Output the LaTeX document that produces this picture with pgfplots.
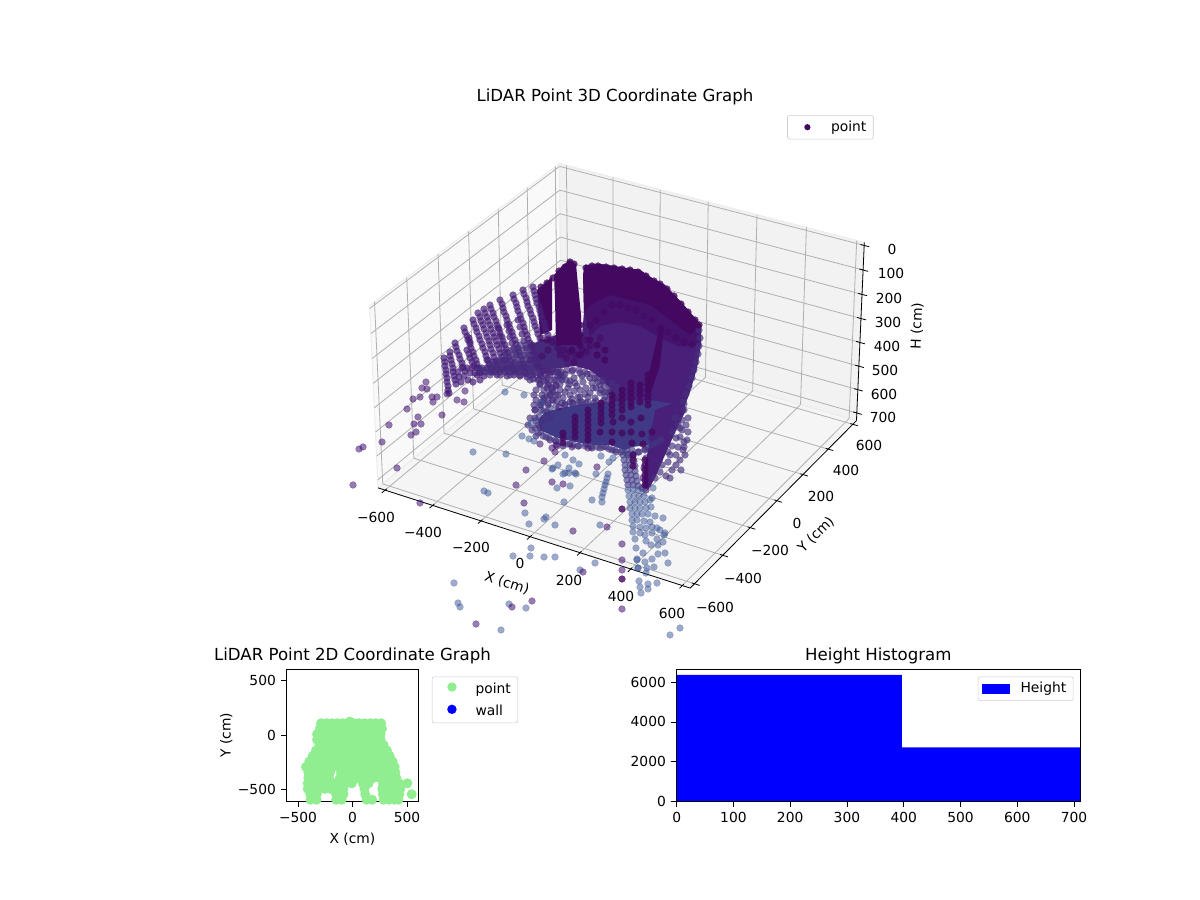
\documentclass[border=0pt]{standalone}
\usepackage{fontspec}
\setmainfont{DejaVu Sans}
\usepackage{pgfplots}
\pgfplotsset{compat=1.18}
% The 3D box is given in its own units (X, Y, H cm) and projected with the
% perspective of the original. The cloud cannot be read in 3D from a flat
% picture: its points are the positions (pixels).
\newcommand\PD[3]{(10-(0.0003927*(#1)-0.0006803*(#2)+0.0004485*(360.5-(#3))))}
\newcommand\PX[3]{(621.5+3115*(0.0007855*(#1)+0.0004535*(#2))/\PD{#1}{#2}{#3})}
\newcommand\PY[3]{(365-3115*(-0.0002268*(#1)+0.0003927*(#2)+0.0007768*(360.5-(#3)))/\PD{#1}{#2}{#3})}
\pgfplotsset{table/proj/.style={row sep=\\,x expr={\PX{\thisrow{X}}{\thisrow{Y}}{\thisrow{H}}},y expr={\PY{\thisrow{X}}{\thisrow{Y}}{\thisrow{H}}}}}
\newcommand\seg[7]{\addplot[#1,forget plot] table[proj]{X Y H\\#2 #3 #4\\#5 #6 #7\\};}
\definecolor{gridc}{HTML}{B0B0B0}
\definecolor{cdark}{HTML}{43085F}
\definecolor{cmid}{HTML}{48207A}
\definecolor{cblue}{HTML}{403A86}
\definecolor{cslate}{HTML}{3B5596}
\definecolor{cring}{HTML}{46307E}
\definecolor{cpur}{HTML}{3F1070}
\definecolor{lgreen}{HTML}{90EE90}
\pgfplotsset{
 dot/.style n args={2}{only marks,mark=*,mark size=2.45pt,mark options={draw=#1,fill=#1,opacity=#2,line width=.2pt},forget plot},
 poly/.style={fill=#1,draw=none,forget plot},
 gl/.style={draw=gridc,line width=.58pt},
 lgd/.style={draw=black!20,rounded corners=1.5pt,fill=white,fill opacity=.8,text opacity=1,font=\fontsize{10}{12}\selectfont,cells={anchor=west}},
 lgdot/.style 2 args={legend image code/.code={\path[draw=none,fill=none] (0,-.1cm) -- (.93cm,.1cm);\path[draw=none,fill=#1,fill opacity=1] (.40cm,0) circle (#2);}},
}
\begin{document}
\begin{tikzpicture}
\useasboundingbox (0,0) rectangle (864bp,648bp);
\begin{axis}[at={(0,648bp)},anchor=north west,hide axis,scale only axis,width=864bp,height=457.92bp,
 xmin=0,xmax=1200,ymin=0,ymax=636,y dir=reverse,clip=true]
% panes
\addplot[fill=black!2.5,draw=black!7,line width=.8pt,forget plot] table[proj]{X Y H\\-630 -630 733\\-630 630 733\\-630 630 -12\\-630 -630 -12\\-630 -630 733\\};
\addplot[fill=black!5,draw=black!7,line width=.8pt,forget plot] table[proj]{X Y H\\-630 630 733\\630 630 733\\630 630 -12\\-630 630 -12\\-630 630 733\\};
\addplot[fill=black!4,draw=black!7,line width=.8pt,forget plot] table[proj]{X Y H\\-630 -630 733\\630 -630 733\\630 630 733\\-630 630 733\\-630 -630 733\\};
% grid
\pgfplotsinvokeforeach{-600,-400,-200,0,200,400,600}{
 \seg{gl}{#1}{-630}{733}{#1}{630}{733}
 \seg{gl}{#1}{630}{733}{#1}{630}{-12}
 \seg{gl}{-630}{#1}{733}{630}{#1}{733}
 \seg{gl}{-630}{#1}{733}{-630}{#1}{-12}
 \seg{black,line width=.58pt}{#1}{-650}{733}{#1}{-620}{733}
 \seg{black,line width=.58pt}{620}{#1}{733}{650}{#1}{733}
}
\pgfplotsinvokeforeach{0,100,200,300,400,500,600,700}{
 \seg{gl}{-630}{630}{#1}{630}{630}{#1}
 \seg{gl}{-630}{-630}{#1}{-630}{630}{#1}
 \seg{black,line width=.58pt}{615}{630}{#1}{650}{630}{#1}
}
\seg{black,line width=.58pt}{-630}{-630}{733}{630}{-630}{733}
\seg{black,line width=.58pt}{630}{-630}{733}{630}{630}{733}
\seg{black,line width=.58pt}{630}{630}{733}{630}{630}{-12}
% fan streaks
\addplot[dot={cmid}{.7}] coordinates {
(455,343)(456,347)(457,351)(459,355)(460,359)(462,363)(463,367)(465,371)
(444,358)(445,362)(445,366)(446,370)(446,374)(447,378)(447,382)(448,386)(448,390)(449,393)
(450,352)(450,356)(451,360)(452,364)(453,368)(453,372)(454,376)(455,380)(456,384)
(458,372)(459,377)(461,382)(464,376)(468,380)(473,382)(480,380)(477,375)
(464,328)(465,332)(467,336)(468,340)(470,344)(471,348)(473,352)(474,356)(476,360)(477,364)(479,368)(480,372)
(473,320)(474,324)(476,328)(477,332)(479,336)(480,340)(482,344)(483,348)(485,352)(486,356)(488,360)(489,364)(491,368)(492,372)
(469,338)(470,342)(467,350)(469,354)(470,358)(472,362)(474,366)
(478,313)(480,317)(481,321)(483,325)(484,329)(486,333)(487,337)(489,341)(490,345)(491,349)(493,353)(494,357)(496,361)(497,365)(499,369)
(484,309)(485,313)(487,317)(488,321)(490,325)(491,329)(493,333)(494,337)(496,341)(497,345)(499,349)(500,353)(502,357)(503,361)(505,365)(506,369)
(490,305)(491,309)(493,313)(494,317)(496,321)(497,325)(499,329)(500,333)(502,337)(503,341)(505,345)(506,349)(508,353)(509,357)(511,361)(512,365)(514,369)
(500,300)(502,304)(503,308)(504,312)(506,316)(507,320)(509,324)(510,328)(512,332)(513,336)(515,340)(516,344)(518,348)(519,352)(521,356)(522,360)(524,364)(525,368)
(513,295)(514,299)(516,303)(517,307)(518,311)(520,315)(521,319)(523,323)(524,327)(525,331)(527,335)(528,339)(530,343)(531,347)(532,351)(534,355)(535,359)(537,363)
(523,290)(524,294)(526,298)(527,302)(528,306)(530,310)(531,314)(533,318)(534,322)(535,326)(537,330)(538,334)(540,338)(541,342)(543,346)(544,350)(545,354)(547,358)
(533,287)(534,291)(535,295)(536,299)(537,303)(539,307)(540,311)(541,315)(542,319)(544,323)(545,327)(546,331)(548,335)(549,339)
(507,325)(509,331)(510,337)(512,343)(514,349)(516,355)(498,328)(500,336)(502,344)(505,352)(507,360)
(518,320)(520,327)(522,334)(524,341)(526,348)(528,355)
(462,368)(467,368)(472,368)(477,368)(482,368)(487,368)(492,368)(497,368)(502,368)(507,368)(512,368)(517,368)(522,368)(527,368)(532,368)(537,368)
(470,373)(475,373)(480,373)(485,372)(490,372)(495,372)(500,372)(505,372)(510,372)(515,372)(520,372)(525,372)(530,372)(535,373)(540,373)(545,374)
(484,376)(497,375)(507,376)(514,375)(520,376)(527,377)(533,379)(539,379)(544,381)(549,384)(547,388)(552,388)(556,386)(540,384)
(487,360)(493,362)(499,362)(505,360)(515,362)(520,364)(530,360)(536,364)(542,362)(548,364)
(510,366)(516,370)(522,366)(528,364)(534,366)(540,368)(546,370)(552,372)(558,376)(548,378)(541,376)(533,375)(526,374)
};
\addplot[dot={cring}{.65}] coordinates {
(520,345)(526,345)(532,345)(538,345)(544,345)(550,345)
(512,350)(518,350)(524,350)(530,350)(536,350)(542,350)(548,350)(554,350)
(506,355)(512,355)(518,355)(524,355)(530,355)(536,355)(542,355)(548,355)(554,355)
(500,360)(506,360)(512,360)(518,360)(524,360)(530,360)(536,360)(542,360)(548,360)(554,360)(560,360)
(490,365)(496,365)(502,365)(508,365)(514,365)(520,365)(526,365)(532,365)(538,365)(544,365)(550,365)(556,365)(562,365)
(480,370)(486,370)(492,370)(498,370)(504,370)(510,370)(516,370)(522,370)(528,370)(534,370)(540,370)(546,370)(552,370)(558,370)
(490,375)(500,375)(510,375)(520,375)(530,375)(540,375)(550,375)(560,375)
(530,380)(538,380)(546,380)(554,380)(562,380)(540,385)(548,385)(556,385)
(536,390)(544,390)(552,390)(534,395)(542,395)(550,395)(558,395)(536,400)(544,400)(552,400)(534,405)(541,405)(548,405)(535,410)(541,410)
};
% mass
\addplot[poly=cmid] coordinates {(583,275)(585,265)(600,264)(620,267)(640,270)(652,278)(665,285)(682,303)(695,318)(701,325)(701,345)(697,368)(690,392)(684,408)(612,408)(610,388)(600,378)(590,370)(575,366)(560,368)(540,370)(530,345)(556,335)(582,335)(584,312)};
\addplot[fill=cdark,draw=none,fill opacity=.5,forget plot] coordinates {(584,312)(590,305)(610,295)(630,300)(650,305)(670,320)(690,335)(701,325)(701,345)(680,347)(660,338)(640,326)(620,322)(600,326)(590,336)};
\addplot[poly=cdark] coordinates {(583,275)(585,265)(600,264)(620,267)(640,270)(652,278)(665,285)(682,303)(695,318)(701,325)(690,335)(670,320)(650,305)(630,300)(610,295)(590,305)(584,312)};
\addplot[poly=cdark] coordinates {(537,290)(545,283)(552,277)(552,330)(540,335)};
\addplot[poly=cdark] coordinates {(554,275)(562,266)(570,260)(576,264)(577,275)(581,315)(582,345)(556,345)(555,300)};
\addplot[poly=cdark] coordinates {(660,325)(664,327)(660,365)(650,395)(645,392)(652,360)};
\addplot[poly=cblue] coordinates {(538,420)(545,412)(560,408)(577,405)(600,402)(650,400)(680,405)(660,445)(655,440)(648,445)(632,447)(625,450)(610,445)(595,445)(575,442)(555,437)(540,430)};
\addplot[poly=cmid] coordinates {(682,400)(686,410)(676,430)(665,455)(655,478)(648,490)(643,487)(645,465)(650,440)(655,410)};
% ragged edges of the mass
\addplot[dot={cmid}{.6}] coordinates {
(532,345)(534,352)(536,358)(531,360)(538,366)(543,371)(549,372)(555,372)(561,372)(567,370)(573,370)(579,370)(585,372)(591,374)(597,378)(603,381)(609,385)(611,392)(613,398)(612,404)
(684,404)(681,412)(678,420)(674,428)(670,436)(667,444)(663,452)(659,460)(655,468)(651,476)(648,484)(646,490)(642,488)(643,478)(644,468)(646,458)(648,448)(651,438)(654,428)
};
\addplot[dot={cdark}{.5}] coordinates {
(542,338)(547,340)(552,342)(558,348)(564,350)(570,352)(576,355)(582,350)(586,340)(590,325)(596,320)(604,312)(612,305)(620,305)(628,308)(636,310)(644,316)(652,320)(660,328)(668,332)(676,338)(684,342)(692,345)
(566,358)(574,362)(586,352)(590,346)(600,338)(560,355)(548,350)(542,356)
};
\addplot[dot={cblue}{.6}] coordinates {
(536,421)(539,416)(544,411)(550,408)(556,406)(535,428)(538,433)(543,436)(549,438)(555,440)(561,442)(567,444)(573,445)(579,446)(585,446)(591,447)(597,447)(603,447)(609,449)(615,450)(621,452)(627,454)(633,454)(639,452)(645,449)(651,445)(656,443)(661,440)(565,404)(572,403)(580,402)(588,402)(596,401)(604,400)
(622,450)(627,450)(632,450)(623,455)(628,455)(633,456)(624,460)(629,460)(634,461)(625,465)(630,465)(635,466)(625,470)(630,470)(635,471)(626,475)(631,475)(636,476)(627,480)(632,480)(637,481)(628,485)(633,485)(638,486)
};
% rings around the mass
\addplot[dot={cring}{.65}] coordinates {
(575,383)(583,382)(592,383)(600,385)(570,395)(578,397)(588,397)(595,398)(605,397)(563,398)(560,390)(548,403)(553,400)(542,402)(547,412)(565,405)(573,403)(582,402)(600,393)(610,390)(617,387)(543,420)(550,418)(540,427)(535,418)
(558,372)(565,374)(572,371)(580,373)(587,374)(595,378)(603,380)(612,383)(570,381)(555,380)
(560,378)(566,380)(574,378)(582,376)(590,378)(598,382)(604,386)(556,395)(562,403)(570,402)(578,403)(586,403)(594,403)(602,403)(608,400)(596,388)(604,392)(568,388)(560,384)(580,390)(586,388)(574,391)(590,393)(610,395)(616,392)(620,395)
(563,376)(569,384)(577,386)(585,394)(593,388)(601,390)(607,392)(565,392)(572,399)(580,397)(557,401)(553,392)(547,396)
(528,425)(532,430)(536,436)(530,418)(535,410)(540,405)(544,398)(550,394)
(678,425)(682,430)(680,437)(684,442)(678,447)(683,450)(676,455)(670,455)(680,460)(676,465)(672,470)(668,462)(662,465)(660,472)(666,476)(655,478)(660,440)(672,432)(675,418)(682,420)(685,455)(681,470)(670,478)
(684,410)(688,418)(686,425)(688,432)(687,440)(684,447)(680,428)(676,438)(672,446)(668,452)
(538,425)(541,432)(546,437)(550,440)(556,441)(563,446)(570,444)(578,446)(586,444)(592,448)(600,448)(606,447)(612,450)(616,452)(638,452)(645,450)
(699,330)(700,338)(699,346)(698,354)(696,362)(694,370)(692,378)(689,386)(686,394)(683,402)
};
% slate points
\addplot[dot={cslate}{.5}] coordinates {
(473,452)(506,454)(484,491)(488,493)(505,392)(524,395)(541,402)(531,423)(522,436)(529,439)(534,441)
(557,488)(570,486)(563,474)(569,473)(576,474)(553,468)(558,465)(564,502)(525,513)(529,524)(546,517)(544,519)(555,525)(600,525)(592,500)(602,502)(596,474)(531,548)
(607,478)(606,482)(605,485)(604,489)(603,493)(602,497)
(513,556)(530,556)(544,557)(555,557)(595,563)(580,570)(454,583)(458,603)(460,607)(509,604)(526,608)(501,630)(637,560)(638,568)
(628,490)(633,490)(638,490)(643,490)(629,496)(634,496)(639,496)(644,496)(630,502)(635,502)(640,502)(645,502)(650,500)(630,508)(635,508)(640,508)(646,508)(651,507)
(632,514)(637,514)(642,514)(648,514)(655,516)(632,520)(637,520)(644,521)(650,522)(657,528)(663,518)(633,526)(640,527)(646,528)(652,527)(660,530)(665,533)
(633,532)(640,533)(645,535)(652,533)(657,539)(664,535)(635,539)(636,548)(646,541)(651,545)(658,545)(663,542)
(643,553)(637,559)(645,562)(652,559)(658,554)(665,553)(668,563)(654,567)(638,568)(647,568)(646,573)(639,581)(648,584)(657,583)(640,587)(648,589)(641,593)
(680,628)(670,635)(565,473)(575,473)(552,469)(569,468)(579,464)(565,455)(573,460)(601,456)(608,474)(613,458)(609,462)(653,488)(652,498)
};
% purple points
\addplot[dot={cpur}{.55}] coordinates {
(353,485)(359,449)(363,447)(382,442)(389,425)(397,468)(407,409)(413,399)(420,397)(422,388)(426,382)(427,389)(432,397)(437,397)(433,402)
(418,417)(414,424)(421,424)(416,432)(411,435)(442,415)(457,400)(464,402)(447,394)(465,391)(420,503)
(526,470)(516,485)(544,461)(540,444)(552,482)(563,484)(597,467)(524,503)(573,531)(607,527)(552,448)(557,446)(555,452)(572,447)(588,448)(559,407)(556,445)
(583,572)(512,607)(532,601)(476,624)(600,638)(622,544)(622,560)(622,570)(622,609)
};
% dark points
\addplot[dot={cdark}{.8}] coordinates {
(622,509)(622,579)
(575,417)(575,422)(575,427)(575,432)(575,437)(588,410)(588,415)(588,420)(588,425)(588,430)(588,435)(588,440)
(601,403)(601,408)(601,413)(601,418)(601,423)(612,395)(612,400)(612,405)(612,410)(612,415)(622,390)(622,395)(622,400)(622,405)(622,410)
(631,383)(631,388)(631,393)(631,398)(631,403)(631,407)(640,385)(640,390)(640,395)(640,402)(648,375)(648,380)(648,385)(648,390)(648,395)(648,400)(648,405)
(563,433)(563,438)(563,443)(600,432)(612,432)(622,433)(631,432)(642,434)(652,432)(612,442)(632,443)(643,444)(622,418)(631,422)(641,418)(613,422)
(633,455)(633,460)(633,466)(645,460)(645,465)(645,470)(645,475)(645,480)(645,485)
(586,268)(592,266)(598,266)(606,267)(614,268)(622,269)(630,270)(638,272)(646,276)(654,281)(660,284)(667,289)(674,296)(681,304)(688,312)(695,320)(699,325)
(570,262)(565,267)(574,264)(559,271)(553,278)(547,283)(541,287)
(572,320)(572,330)(572,340)(572,350)(580,325)(580,335)(580,345)(580,355)(597,345)(597,355)(605,350)(605,360)(590,340)
};
% texts
\node[font=\fontsize{12}{14}\selectfont] at (axis cs:615,96.5) {LiDAR Point 3D Coordinate Graph};
\node at (axis cs:376,517) {−600};
\node at (axis cs:423,532) {−400};
\node at (axis cs:471,547) {−200};
\node at (axis cs:520,563) {0};
\node at (axis cs:569,580) {200};
\node at (axis cs:621,596) {400};
\node at (axis cs:672,613) {600};
\node[rotate=-18] at (axis cs:507,583) {X (cm)};
\node at (axis cs:715,607) {−600};
\node at (axis cs:743,578) {−400};
\node at (axis cs:770,550) {−200};
\node at (axis cs:797,523) {0};
\node at (axis cs:821,496) {200};
\node at (axis cs:846,470) {400};
\node at (axis cs:869,445) {600};
\node[rotate=45] at (axis cs:816,535) {Y (cm)};
\node at (axis cs:892,249) {0};
\node at (axis cs:891,273) {100};
\node at (axis cs:889,298) {200};
\node at (axis cs:888,322) {300};
\node at (axis cs:887,346) {400};
\node at (axis cs:885,370) {500};
\node at (axis cs:884,394) {600};
\node at (axis cs:883,417) {700};
\node[rotate=88] at (axis cs:917,326) {H (cm)};
\end{axis}
% legend of the 3D panel
\begin{axis}[at={(0,648bp)},anchor=north west,hide axis,scale only axis,width=864bp,height=457.92bp,
 xmin=0,xmax=1,ymin=0,ymax=1,legend style={lgd,at={(0.656,0.819)},anchor=north west}]
\addlegendimage{lgdot={cdark}{2.25pt}}
\addlegendentry{point}
\end{axis}
% 2D footprint
\begin{axis}[at={(206.4bp,71.1bp)},anchor=south west,scale only axis,width=94.8bp,height=95bp,
 xmin=-604,xmax=604,ymin=-604,ymax=604,xtick={-500,0,500},xticklabels={−500,0,500},ytick={-500,0,500},yticklabels={−500,0,500},
 tick align=outside,tick pos=left,xlabel={X (cm)},ylabel={Y (cm)},
 title={LiDAR Point 2D Coordinate Graph},title style={font=\fontsize{12}{14}\selectfont,yshift=-6pt},
 axis line style={line width=.6pt},major tick style={black,line width=.6pt},
 xlabel style={yshift=-.6pt},ylabel style={yshift=-3pt},
 legend style={lgd,at={(1.102,0.944)},anchor=north west,row sep=3pt}]
\addplot[only marks,mark=*,mark size=3.4pt,mark options={draw=lgreen,fill=lgreen},color=lgreen,forget plot] coordinates {
(-25,125)
(-288,110)(-238,110)(-188,110)(-138,110)(-88,110)(-38,110)(12,110)(62,110)(112,110)(162,110)(212,110)(262,110)
(-300,60)(-250,60)(-200,60)(-150,60)(-100,60)(-50,60)(0,60)(50,60)(100,60)(150,60)(200,60)(250,60)(270,60)
(-325,10)(-275,10)(-225,10)(-175,10)(-125,10)(-75,10)(-25,10)(25,10)(75,10)(125,10)(175,10)(225,10)(258,10)
(-325,-40)(-275,-40)(-225,-40)(-175,-40)(-125,-40)(-75,-40)(-25,-40)(25,-40)(75,-40)(125,-40)(175,-40)(225,-40)(258,-40)
(-304,-90)(-254,-90)(-204,-90)(-154,-90)(-104,-90)(-54,-90)(-4,-90)(46,-90)(96,-90)(146,-90)(196,-90)(246,-90)(285,-90)
(-335,-140)(-285,-140)(-235,-140)(-185,-140)(-135,-140)(-85,-140)(-35,-140)(15,-140)(65,-140)(115,-140)(165,-140)(215,-140)(265,-140)(316,-140)
(-365,-190)(-315,-190)(-265,-190)(-215,-190)(-165,-190)(-115,-190)(-65,-190)(-15,-190)(35,-190)(85,-190)(135,-190)(185,-190)(235,-190)(285,-190)(341,-190)
(-396,-240)(-346,-240)(-296,-240)(-246,-240)(-196,-240)(-146,-240)(-96,-240)(-46,-240)(4,-240)(54,-240)(104,-240)(154,-240)(204,-240)(254,-240)(304,-240)(368,-240)
(-427,-290)(-377,-290)(-327,-290)(-277,-290)(-227,-290)(-177,-290)(-127,-290)(-77,-290)(-27,-290)(23,-290)(73,-290)(123,-290)(173,-290)(223,-290)(273,-290)(323,-290)(387,-290)
(-405,-340)(-355,-340)(-305,-340)(-255,-340)(-205,-340)(-105,-340)(-55,-340)(-5,-340)(45,-340)(95,-340)(145,-340)(195,-340)(245,-340)(295,-340)(345,-340)(393,-340)
(-405,-390)(-355,-390)(-305,-390)(-255,-390)(-215,-390)(-115,-390)(-65,-390)(-15,-390)(40,-390)(95,-390)(145,-390)(195,-390)(255,-390)(305,-390)(355,-390)(402,-390)
(-411,-440)(-361,-440)(-311,-440)(-261,-440)(-211,-440)(-161,-440)(-111,-440)(-61,-440)(-6,-440)(95,-440)(147,-440)(279,-440)(329,-440)(379,-440)(429,-440)(503,-440)
(-411,-490)(-361,-490)(-311,-490)(-255,-490)(-205,-490)(-150,-490)(-83,-490)(110,-490)(273,-490)(323,-490)(373,-490)(439,-490)
(-387,-540)(-328,-540)(-150,-540)(-83,-540)(117,-540)(279,-540)(329,-540)(379,-540)(430,-540)(543,-540)
(-385,-590)(-330,-590)(-240,-620)(-150,-590)(-100,-590)(130,-590)(180,-590)(285,-590)(335,-590)(385,-590)(420,-590)
};
\addlegendimage{lgdot={lgreen}{3.4pt}}
\addlegendentry{point}
\addlegendimage{lgdot={blue}{3.4pt}}
\addlegendentry{wall}
\end{axis}
% histogram
\begin{axis}[at={(487.2bp,71.1bp)},anchor=south west,scale only axis,width=290.4bp,height=95bp,
 xmin=0,xmax=710.6,ymin=0,ymax=6655,xtick={0,100,200,300,400,500,600,700},xticklabels={0,100,200,300,400,500,600,700},
 ytick={0,2000,4000,6000},yticklabels={0,2000,4000,6000},tick align=outside,tick pos=left,
 title={Height Histogram},title style={font=\fontsize{12}{14}\selectfont,yshift=-6pt},
 axis line style={line width=.6pt},major tick style={black,line width=.6pt},
 legend style={lgd,at={(0.9838,0.9444)},anchor=north east},axis on top]
\addplot[ybar interval,fill=blue,draw=none,forget plot] coordinates {(0,6370)(396.7,2723)(710.6,2723)};
\addlegendimage{legend image code/.code={\path[draw=none,fill=none] (0,-.1cm) -- (.85cm,.1cm);\path[draw=none,fill=blue,fill opacity=1,sharp corners] (-.05cm,-.125cm) rectangle (.65cm,.125cm);}}
\addlegendentry{Height}
\end{axis}
\end{tikzpicture}
\end{document}
